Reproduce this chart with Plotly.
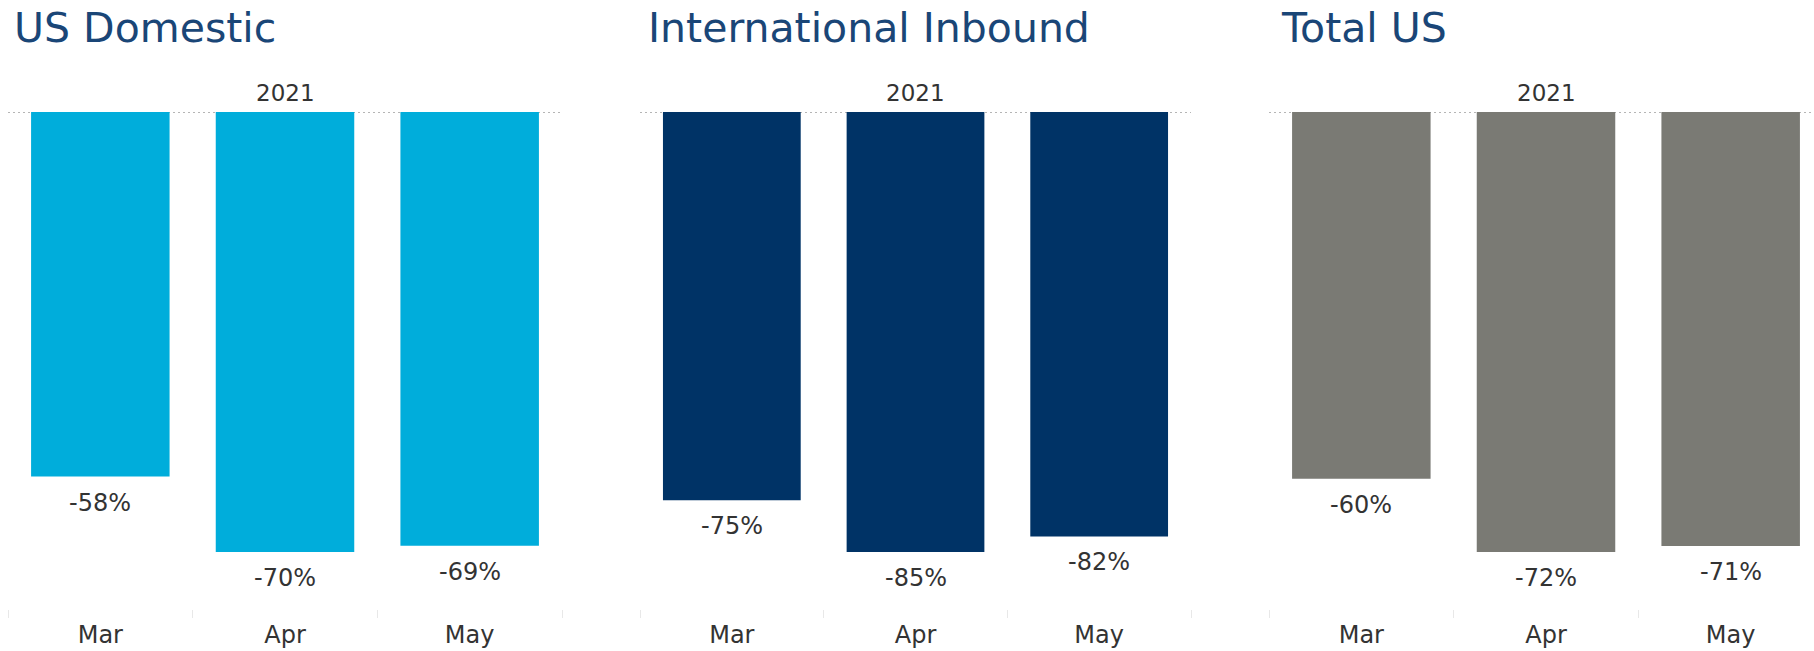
import plotly.graph_objects as go

months = ["Mar", "Apr", "May"]
us_domestic = [-58, -70, -69]
intl_inbound = [-75, -85, -82]
total_us = [-60, -72, -71]
panel_titles = ["US Domestic", "International Inbound", "Total US"]
year_label = "2021"

W, H = 1814, 651
colors = ["#00ADDB", "#003366", "#7A7A74"]
series = [us_domestic, intl_inbound, total_us]

FONT = "DejaVu Sans, Verdana, sans-serif"
TXT = "#333333"

# pixel layout of the three panels
panel_px = [(8, 562), (640, 1191), (1269, 1823)]
top_px, bottom_px = 100, 609

fig = go.Figure()
for i, (vals, col) in enumerate(zip(series, colors)):
    n = "" if i == 0 else str(i + 1)
    fig.add_trace(go.Bar(
        x=months, y=vals, marker=dict(color=col, line=dict(width=0)),
        cliponaxis=False, xaxis="x" + n, yaxis="y" + n, showlegend=False,
        hoverinfo="x+y",
    ))
    for m, v in zip(months, vals):
        fig.add_annotation(
            xref="x" + n, yref="y" + n, x=m, y=v,
            yanchor="middle", xanchor="center", yshift=-26,
            text=f"{v}%", showarrow=False,
            font=dict(family=FONT, size=24, color=TXT),
        )
    x0, x1 = panel_px[i]
    cat_w = (x1 - x0) / 3.0
    d1 = min(x1, W)
    xr_hi = 2.5 - (x1 - d1) / cat_w
    lo = min(vals) * 1.1295
    hi = -min(vals) * 0.0273
    fig.layout["xaxis" + n] = dict(
        domain=[x0 / W, d1 / W], anchor="y" + n, type="category",
        range=[-0.5, xr_hi], showgrid=False, showline=False, zeroline=False,
        ticks="outside", tickson="boundaries", ticklen=8, tickwidth=1,
        tickcolor="#e8e8e8",
        tickfont=dict(family=FONT, size=24, color=TXT),
        ticklabelstandoff=9,
    )
    fig.layout["yaxis" + n] = dict(
        domain=[1 - bottom_px / H, 1 - top_px / H], anchor="x" + n,
        range=[lo, hi], showticklabels=False, tickvals=[0], ticks="",
        showgrid=True, gridcolor="#b5b5b5", griddash="2px,3px", gridwidth=1,
        zeroline=False, showline=False,
    )
    fig.add_annotation(
        xref="x" + n + " domain" if i < 2 else "paper",
        x=0.5 if i < 2 else ((x0 + x1) / 2) / W,
        yref="paper", y=1 - 93 / H, yanchor="middle", xanchor="center",
        text=year_label, showarrow=False,
        font=dict(family=FONT, size=23, color=TXT),
    )

title_x = [12, 646, 1279]
for t, tx in zip(panel_titles, title_x):
    fig.add_annotation(
        xref="paper", x=tx / W, xanchor="left",
        yref="paper", y=1 - 28 / H, yanchor="middle",
        text=t, showarrow=False,
        font=dict(family=FONT, size=41, color="#1A4677"),
    )

fig.update_layout(
    width=W, height=H, margin=dict(l=0, r=0, t=0, b=0),
    paper_bgcolor="white", plot_bgcolor="white",
    bargap=0.25,
)

fig.write_html("out.html")
